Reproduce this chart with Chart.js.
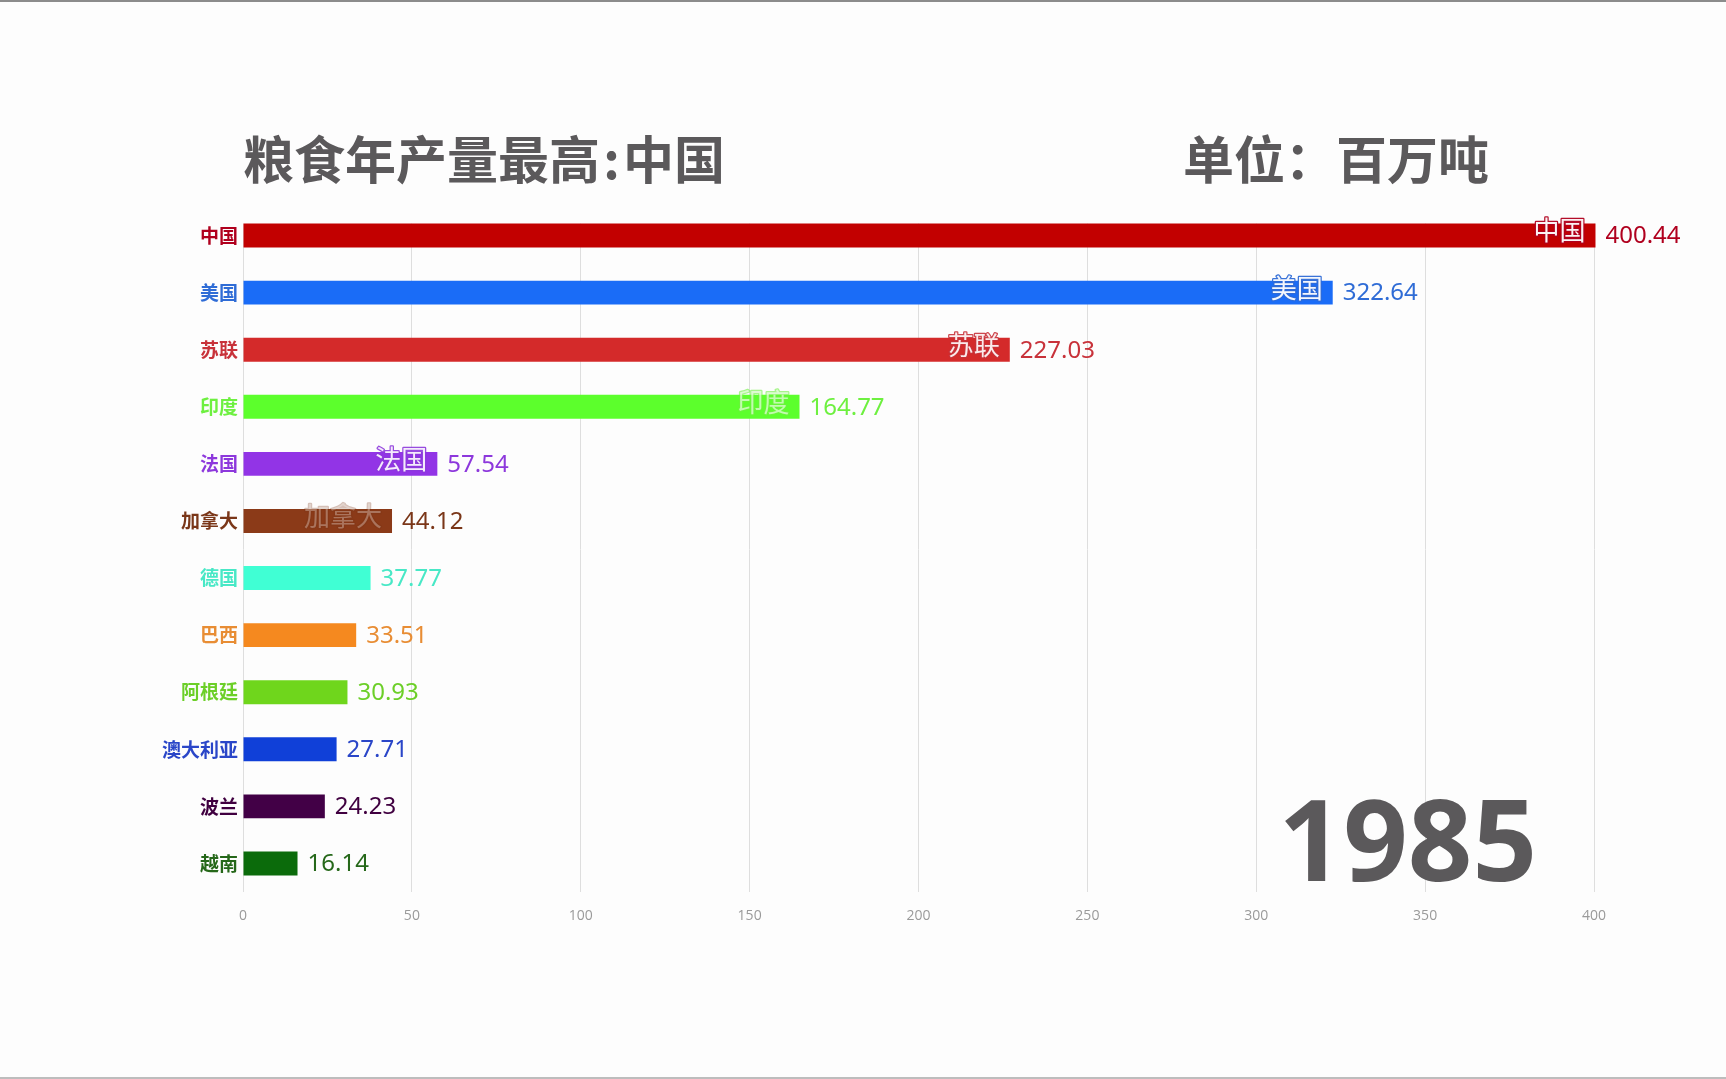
<!DOCTYPE html>
<html>
<head>
<meta charset="utf-8">
<script src="https://cdn.jsdelivr.net/npm/chart.js"></script>
<style>
  html, body { margin: 0; padding: 0; background: #fdfdfd; }
  #wrap { position: relative; width: 1726px; height: 1079px; }
  #wrap:before { content: ''; position: absolute; left: 0; top: 0; width: 100%; height: 2px; background: #8c8c8c; }
  #wrap:after { content: ''; position: absolute; left: 0; bottom: 0; width: 100%; height: 2px; background: #bdbdbd; }
</style>
</head>
<body>
<div id="wrap"><canvas id="myChart"></canvas></div>
<script>
    // Data for the 1985 frame
    const countries = ['中国', '美国', '苏联', '印度', '法国', '加拿大', '德国', '巴西', '阿根廷', '澳大利亚', '波兰', '越南'];
    const output = [400.44, 322.64, 227.03, 164.77, 57.54, 44.12, 37.77, 33.51, 30.93, 27.71, 24.23, 16.14];
    const xTicks = [0, 50, 100, 150, 200, 250, 300, 350, 400];
    const year = '1985';
    const titleText = '粮食年产量最高\u200a:\u200a中国';
    const unitText = '单位：百万吨';

    // Colours per country
    const barColors = ['#c20000', '#1a6cf7', '#d42a2a', '#5cff2c', '#9234e6', '#8b3a18', '#40ffd4', '#f5891f', '#6fd61c', '#1040d8', '#420046', '#0b6b0b'];
    const textColors = ['#b0001e', '#2f6cd6', '#c8323a', '#6ef040', '#8d38dc', '#7a3618', '#48e8c6', '#e88d34', '#6ccf28', '#2a46c8', '#400040', '#26681a'];
    // fading of the in-bar name (frame of an animation)
    const nameAlpha = [0.95, 0.95, 0.9, 0.6, 0.9, 0.3, 0, 0, 0, 0, 0, 0];

    const labelPlugin = {
        id: 'labels',
        beforeDatasetsDraw(chart) {
            // gridlines only start at the first bar
            const first = chart.getDatasetMeta(0).data[0];
            const top = first.y - first.height / 2;
            const a = chart.chartArea;
            chart.ctx.save();
            chart.ctx.fillStyle = '#fdfdfd';
            chart.ctx.fillRect(a.left - 2, a.top - 2, a.right - a.left + 4, top - a.top + 2);
            chart.ctx.restore();
        },
        afterDatasetsDraw(chart) {
            const c = chart.ctx;
            const meta = chart.getDatasetMeta(0);
            c.save();
            meta.data.forEach((bar, i) => {
                // value after the bar
                c.font = '24px "Noto Sans", "DejaVu Sans", sans-serif';
                c.fillStyle = textColors[i];
                c.textAlign = 'left';
                c.textBaseline = 'middle';
                c.fillText(output[i].toFixed(2), bar.x + 10, bar.y + 1);
                // name inside the bar
                if (nameAlpha[i] > 0) {
                    c.font = '26px "Noto Sans CJK SC", sans-serif';
                    c.textAlign = 'right';
                    c.globalAlpha = nameAlpha[i];
                    c.lineWidth = 2.5;
                    c.lineJoin = 'round';
                    c.strokeStyle = textColors[i];
                    c.strokeText(countries[i], bar.x - 10, bar.y - 5);
                    c.fillStyle = '#ffffff';
                    c.fillText(countries[i], bar.x - 10, bar.y - 5);
                    c.globalAlpha = 1;
                }
            });
            // title, unit, year
            c.fillStyle = '#5b595b';
            c.textAlign = 'left';
            c.textBaseline = 'middle';
            c.font = 'bold 51px "Noto Sans CJK SC", sans-serif';
            c.fillText(titleText, 243, 160);
            c.fillText(unitText, 1183, 160);
            c.font = 'bold 113px "Open Sans", "Noto Sans", sans-serif';
            c.textBaseline = 'alphabetic';
            c.textAlign = 'right';
            c.fillText(year, 1537, 881);
            c.restore();
        }
    };

    const ctx = document.getElementById('myChart').getContext('2d');
    const myChart = new Chart(ctx, {
        type: 'bar',
        data: {
            labels: countries,
            datasets: [{
                data: output,
                backgroundColor: barColors,
                barPercentage: 0.42,
                categoryPercentage: 1,
                clip: false
            }]
        },
        options: {
            indexAxis: 'y',
            responsive: true,
            maintainAspectRatio: false,
            animation: false,
            layout: { padding: { left: 0, right: 132, top: 207, bottom: 147 } },
            plugins: { legend: { display: false }, tooltip: { enabled: false } },
            scales: {
                x: {
                    min: 0,
                    max: 400,
                    afterBuildTicks: s => { s.ticks = xTicks.map(v => ({ value: v })); },
                    afterFit: s => { s.height = 40; },
                    grid: { color: '#dedede', drawTicks: false },
                    border: { display: false },
                    ticks: { color: '#9a9a9a', padding: 16, font: { size: 14, family: 'Open Sans' } }
                },
                y: {
                    afterFit: s => { s.width = 243; },
                    grid: { display: false, drawTicks: false, tickLength: 0 },
                    border: { display: false },
                    ticks: {
                        padding: 5,
                        color: c => textColors[c.index],
                        font: { size: 19, weight: 'bold', family: '"Noto Sans CJK SC"' }
                    }
                }
            }
        },
        plugins: [labelPlugin]
    });
</script>
</body>
</html>
